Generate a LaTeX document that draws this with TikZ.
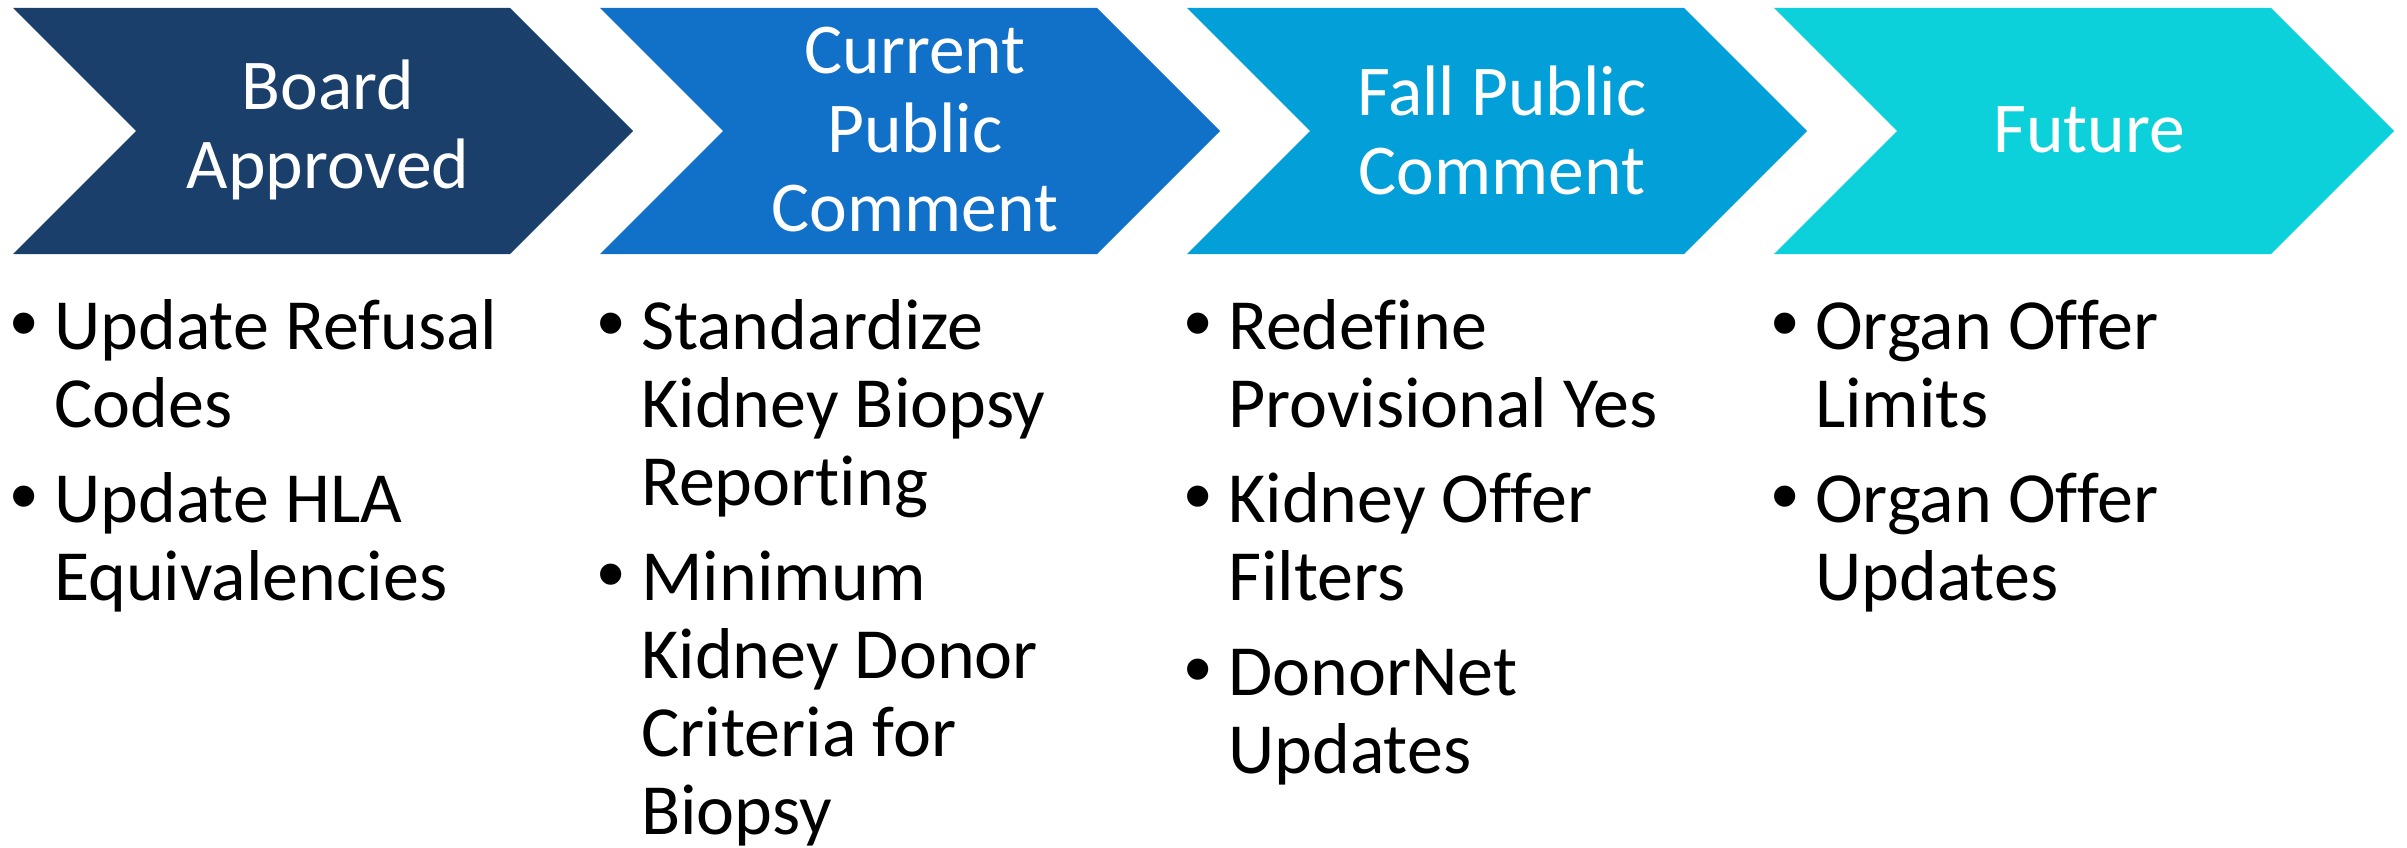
\documentclass[tikz,border=0pt]{standalone}
\usepackage{fontspec}
\setmainfont{Carlito}[Ligatures=NoCommon]
\newfontfamily\bulletfont{Liberation Sans}
\usetikzlibrary{positioning}

\definecolor{boardblue}{HTML}{1B3F6B}
\definecolor{currentblue}{HTML}{1170C8}
\definecolor{fallblue}{HTML}{039FD8}
\definecolor{futurecyan}{HTML}{0DD1DA}

\newcommand{\bul}{\makebox[44pt][l]{\bulletfont\fontsize{78}{78}\selectfont •}}

\tikzset{
  stage/.style={text=white, align=center, inner sep=0pt, font=\fontsize{71.5}{79}\selectfont},
  items/.style={anchor=base west, inner sep=0pt, font=\fontsize{72}{78}\selectfont}
}

\begin{document}
\begin{tikzpicture}[x=1pt,y=-1pt]
    \useasboundingbox (0,0) rectangle (2407,848);

    % chevrons
    \foreach \l/\col in {13/boardblue, 600/currentblue, 1187/fallblue, 1774/futurecyan}
        \fill[\col] (\l,8) -- (\l+497,8) -- (\l+620,131) -- (\l+497,254) -- (\l,254) -- (\l+123,131) -- cycle;

    % stage titles
    \node[stage] (board) at (328,130) {Board\\Approved};
    \node[stage] (current) at (915,130) {Current\\Public\\Comment};
    \node[stage] (fall) at (1502,130) {Fall Public\\Comment};
    \node[stage] (future) at (2089,130) {Future};

    % items under each stage
    \node[items] (boarditems) at (10,349) {\begin{tabular}[t]{@{}l@{}l@{}}
        \bul & Update Refusal\\
             & Codes\\[17pt]
        \bul & Update HLA\\
             & Equivalencies
    \end{tabular}};
    \node[items] (currentitems) at (597,349) {\begin{tabular}[t]{@{}l@{}l@{}}
        \bul & Standardize\\
             & Kidney Biopsy\\
             & Reporting\\[17pt]
        \bul & Minimum\\
             & Kidney Donor\\
             & Criteria for\\
             & Biopsy
    \end{tabular}};
    \node[items] (fallitems) at (1184,349) {\begin{tabular}[t]{@{}l@{}l@{}}
        \bul & Redefine\\
             & Provisional Yes\\[17pt]
        \bul & Kidney Offer\\
             & Filters\\[17pt]
        \bul & DonorNet\\
             & Updates
    \end{tabular}};
    \node[items] (futureitems) at (1771,349) {\begin{tabular}[t]{@{}l@{}l@{}}
        \bul & Organ Offer\\
             & Limits\\[17pt]
        \bul & Organ Offer\\
             & Updates
    \end{tabular}};

\end{tikzpicture}
\end{document}
